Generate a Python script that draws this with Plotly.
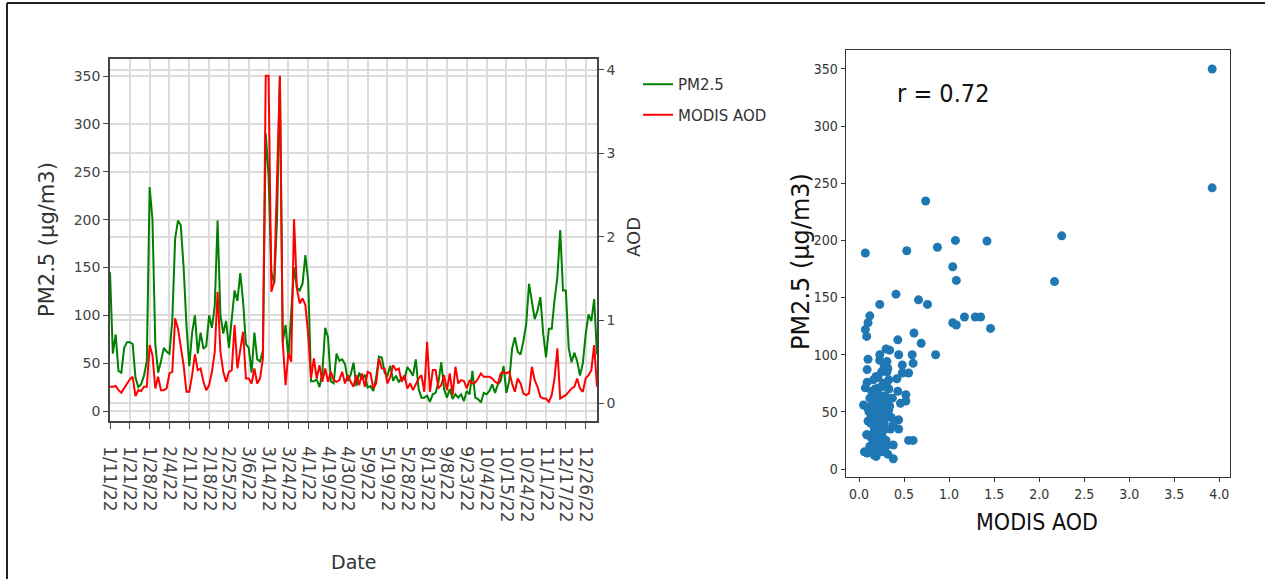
import plotly.graph_objects as go

# ---------------- data ----------------
tick_labels = ["1/11/22", "1/21/22", "1/28/22", "2/4/22", "2/11/22", "2/18/22", "2/25/22",
               "3/6/22", "3/14/22", "3/24/22", "4/1/22", "4/19/22", "4/30/22", "5/9/22",
               "5/19/22", "5/28/22", "8/13/22", "9/8/22", "9/23/22", "10/4/22", "10/15/22",
               "10/24/22", "11/1/22", "12/17/22", "12/26/22"]
label_step = 7

pm25 = [145, 60, 80, 42, 40, 66, 72, 72, 70, 35, 25, 28, 37, 52, 234, 200, 70, 40, 52, 66,
        62, 60, 95, 180, 199, 194, 150, 90, 47, 82, 100, 60, 82, 65, 68, 100, 87, 110, 199,
        100, 81, 94, 66, 94, 126, 115, 144, 115, 70, 66, 40, 82, 54, 52, 63, 290, 246, 145,
        133, 200, 350, 72, 90, 55, 100, 150, 129, 126, 133, 163, 136, 31, 31, 33, 25, 40, 87,
        77, 31, 29, 60,
        52.5, 54, 49, 31.5, 38, 50.5, 26, 40, 33, 38, 24.5, 26, 21, 35, 57, 56, 40, 37, 47.5,
        31.5, 37, 30, 35, 33, 46, 42, 37, 54, 23, 14, 14, 16, 9.7, 17.5, 19, 30, 51, 23, 14,
        23, 12.6, 17.5, 14,
        17.5, 10.5, 21, 17.5, 42, 14, 12.6, 9, 19, 17.5, 21, 28, 19, 28, 31.5, 47, 19, 31.5,
        65, 77, 62, 59, 73, 91, 133, 116, 96, 105, 119, 81, 56, 86, 86, 116, 140, 189, 126,
        126, 66, 51, 61, 52, 37, 50, 80, 101, 94, 117, 59]

modis_aod = [0.2, 0.2, 0.21, 0.16, 0.13, 0.18, 0.24, 0.29, 0.32, 0.09, 0.16, 0.15, 0.2, 0.2,
             0.70, 0.58, 0.18, 0.32, 0.16, 0.16, 0.18, 0.36, 0.38, 1.02, 0.9, 0.7, 0.46, 0.14,
             0.14, 0.34, 0.59, 0.4, 0.42, 0.26, 0.16, 0.22, 0.38, 0.62, 1.34,
             0.62, 0.38, 0.26, 0.38, 0.4, 0.94, 0.42, 0.66, 0.86, 0.3, 0.3, 0.24, 0.42, 0.24,
             0.3, 0.54, 3.93, 3.93, 1.34, 1.46, 2.6, 3.93, 0.74, 0.22, 0.6, 0.5, 2.21, 1.38,
             1.2, 1.26, 1.18, 0.82, 0.3, 0.54, 0.3, 0.46, 0.26, 0.42, 0.26, 0.38, 0.28, 0.26,
             0.28, 0.38, 0.24, 0.34, 0.26, 0.2, 0.34, 0.22, 0.36, 0.2, 0.38, 0.36, 0.18, 0.24,
             0.54, 0.42, 0.42, 0.24, 0.32, 0.46, 0.4, 0.42, 0.26, 0.34, 0.18, 0.24, 0.16, 0.24,
             0.3, 0.34, 0.14, 0.74, 0.14, 0.4, 0.4, 0.18, 0.22, 0.34, 0.16, 0.36, 0.1, 0.44,
             0.24,
             0.28, 0.27, 0.18, 0.28, 0.24, 0.25, 0.3, 0.36, 0.32, 0.32, 0.32, 0.3, 0.26, 0.24,
             0.36, 0.38, 0.36, 0.38, 0.24, 0.14, 0.3, 0.24, 0.12, 0.1, 0.12, 0.44, 0.28, 0.2,
             0.08, 0.06, 0.06, 0.02, 0.1, 0.3, 0.66, 0.06, 0.08, 0.1, 0.14, 0.18, 0.2, 0.3,
             0.18, 0.14, 0.3, 0.34, 0.4, 0.7, 0.2]

scatter_aod = [3.92, 3.92, 2.25, 2.17, 0.74, 1.07, 1.42, 0.87, 0.53, 0.07, 1.04, 1.08, 0.41,
               0.66, 0.76, 0.23, 0.12, 0.10, 0.07, 0.085, 1.17, 1.29, 1.35, 1.04, 1.08, 1.46,
               0.61, 0.43, 0.69, 0.30, 0.34, 0.23, 0.85, 0.59, 0.44, 0.10, 0.23, 0.60, 0.31,
               0.48, 0.09, 0.32, 0.55, 0.48, 0.19, 0.42, 0.09, 0.33, 0.07, 0.21, 0.31, 0.16,
               0.43, 0.52, 0.24, 0.29, 0.05, 0.09, 0.20, 0.27, 0.37, 0.46, 0.52, 0.33, 0.15,
               0.22, 0.12, 0.23, 0.44, 0.19, 0.38, 0.44, 0.085, 0.23, 0.16, 0.30, 0.55, 0.60,
               0.38, 0.26, 0.06, 0.09, 0.32, 0.19, 0.38, 0.16, 0.27,
               0.15, 0.18, 0.20, 0.22, 0.25, 0.28, 0.17, 0.20, 0.24, 0.13, 0.26, 0.30, 0.18,
               0.22, 0.14, 0.19, 0.30, 0.33, 0.27, 0.16, 0.21, 0.23, 0.12, 0.25, 0.28, 0.31,
               0.20, 0.18, 0.15, 0.26, 0.29, 0.11, 0.13, 0.34, 0.36, 0.22, 0.17, 0.30, 0.14,
               0.24, 0.27, 0.32, 0.10, 0.21, 0.25, 0.16, 0.35, 0.12, 0.09, 0.28]
scatter_pm = [350, 246, 204, 164, 234.5, 200, 199.5, 194, 191, 189, 177, 165, 153, 148, 144,
              144, 134, 128, 122, 116, 133, 133, 133, 128, 126, 123, 119, 113, 110, 105, 104,
              100, 100, 100, 100, 96, 95, 92.5, 94, 91, 87, 88, 84, 84, 81, 79, 76, 78, 71,
              70.6, 72, 66, 68, 65, 62, 64, 56, 54, 57.5, 54.5, 62, 57.5, 59.5, 51.6, 48.7, 46,
              43, 41, 43, 37, 38.5, 35, 30, 30, 31, 25, 25, 25, 21, 19, 15, 14, 13, 11, 9,
              16.6, 15,
              60, 55, 45, 65, 50, 40, 35, 25, 22, 40, 33, 45, 70, 30, 55, 18, 60, 70, 75, 45,
              52, 58, 62, 85, 90, 85, 38, 28, 22, 28, 35, 50, 28, 55, 45, 15, 12, 20, 68, 42,
              60, 62, 42, 80, 72, 78, 35, 20, 30, 55]
r_value = 0.72

# ---------------- figure ----------------
W, H = 1265, 579


def fx(p):
    return p / W


def fy(p):
    return 1 - p / H


days = list(range(len(pm25)))
tick_pos = [days[i * label_step] for i in range(len(tick_labels))]

fig = go.Figure()
fig.add_trace(go.Scatter(x=days, y=pm25, mode="lines", name="PM2.5",
                         line=dict(color="#008000", width=2),
                         xaxis="x", yaxis="y", legendgroup="g1"))
fig.add_trace(go.Scatter(x=days, y=modis_aod, mode="lines", name="MODIS AOD",
                         line=dict(color="#ff0000", width=2),
                         xaxis="x", yaxis="y2", legendgroup="g2"))
fig.add_trace(go.Scatter(x=scatter_aod, y=scatter_pm, mode="markers", showlegend=False,
                         marker=dict(color="#1f77b4", size=9, line=dict(width=0)),
                         xaxis="x2", yaxis="y3"))

grid = "#dcdcdc"
axcol = "#444444"
tfont = dict(family="DejaVu Sans", size=14, color="#444444")
cond = "DejaVu Sans Condensed, Roboto, DejaVu Sans"
nfont = dict(family=cond, size=14, color="#333333")


def label(text, x, y, size, family="DejaVu Sans", color="#333333", angle=0):
    return dict(text=text, x=fx(x), y=fy(y), xref="paper", yref="paper",
                xanchor="center", yanchor="middle", textangle=angle, showarrow=False,
                font=dict(family=family, size=size, color=color))


fig.update_layout(
    width=W, height=H,
    margin=dict(l=0, r=0, t=0, b=0, autoexpand=False),
    paper_bgcolor="white", plot_bgcolor="white",
    showlegend=True,
    legend=dict(x=fx(638), y=fy(68), xanchor="left", yanchor="top",
                font=dict(family="DejaVu Sans", size=15, color="#333333"),
                bgcolor="rgba(0,0,0,0)", tracegroupgap=8),
    xaxis=dict(domain=[fx(110), fx(597)], range=[0, len(pm25) - 1], anchor="y",
               automargin=False,
               tickmode="array", tickvals=tick_pos, ticktext=tick_labels,
               tickangle=90, tickfont=dict(family="DejaVu Sans", size=17, color="#444444"),
               ticks="outside", ticklen=6, tickcolor=axcol, ticklabelstandoff=14,
               showgrid=True, gridcolor=grid, gridwidth=1.5,
               showline=True, linecolor=axcol, linewidth=1.5, mirror=True, zeroline=False),
    yaxis=dict(domain=[fy(421), fy(59)], range=[-10.4, 367.8], anchor="x",
               automargin=False,
               tickvals=[0, 50, 100, 150, 200, 250, 300, 350], tickfont=tfont,
               ticks="outside", ticklen=5, tickcolor=axcol,
               showgrid=True, gridcolor=grid, gridwidth=1.5,
               showline=True, linecolor=axcol, linewidth=1.5, mirror=True, zeroline=False),
    yaxis2=dict(overlaying="y", side="right", anchor="x", range=[-0.21, 4.13],
                automargin=False,
                tickvals=[0, 1, 2, 3, 4], tickfont=tfont,
                ticks="outside", ticklen=5, tickcolor=axcol,
                showgrid=True, gridcolor=grid, gridwidth=1.5,
                showline=True, linecolor=axcol, linewidth=1.5, zeroline=False),
    xaxis2=dict(domain=[fx(845.7), fx(1230)], range=[-0.148, 4.118], anchor="y3",
                automargin=False,
                tickvals=[0, 0.5, 1, 1.5, 2, 2.5, 3, 3.5, 4], tickformat=".1f",
                tickfont=nfont, ticks="outside", ticklen=4, tickcolor="#333333",
                showgrid=False, showline=True, linecolor="#333333", linewidth=1.2,
                mirror=True, zeroline=False),
    yaxis3=dict(domain=[fy(477), fy(50)], range=[-7, 366.6], anchor="x2",
                automargin=False,
                tickvals=[0, 50, 100, 150, 200, 250, 300, 350],
                tickfont=nfont, ticks="outside", ticklen=4, tickcolor="#333333",
                showgrid=False, showline=True, linecolor="#333333", linewidth=1.2,
                mirror=True, zeroline=False),
    annotations=[
        label("PM2.5 (µg/m3)", 47, 240, 21, angle=-90),
        label("AOD", 633, 237, 18, angle=-90),
        label("Date", 353, 562, 19),
        label("MODIS AOD", 1037, 522, 23, family=cond, color="#111111"),
        label("PM2.5 (µg/m3)", 801, 262, 24, color="#111111", angle=-90),
        label(f"r = {r_value:.2f}", 943, 93, 25, family=cond, color="#111111"),
    ],
    shapes=[
        dict(type="line", xref="paper", yref="paper", x0=fx(7), x1=1, y0=fy(3), y1=fy(3),
             line=dict(color="#222222", width=2)),
        dict(type="line", xref="paper", yref="paper", x0=fx(7), x1=fx(7), y0=fy(3), y1=0,
             line=dict(color="#222222", width=2)),
    ],
)

fig.write_html("out.html")
